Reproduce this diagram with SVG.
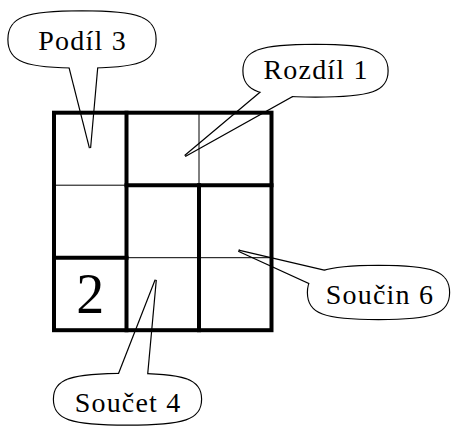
<svg xmlns="http://www.w3.org/2000/svg" xmlns:xlink="http://www.w3.org/1999/xlink" width="451" height="428" viewBox="0 0 451 428">
  <style>
    /* callouts: a doubled stroke is drawn first, then the white fills cover its inner half */
    .edge { fill: #fff; stroke: #000; stroke-width: 2.4; stroke-linejoin: miter; }
    .cover { fill: #fff; stroke: none; }
    .label { font-size: 28px; letter-spacing: 1.2px; text-anchor: middle; fill: #000; }
    .digit { font-size: 56px; text-anchor: middle; fill: #000; }
    .thin { stroke: #000; stroke-width: 1; fill: none; }
    .thick { stroke: #000; stroke-width: 4; fill: none; stroke-linecap: square; }
  </style>
  <defs>
    <path id="body-podil" d="M155.5,39.5 C155.5,61.34 139.33,67.5 82,67.5 C24.67,67.5 8.5,61.34 8.5,39.5 C8.5,17.66 24.67,11.5 82,11.5 C139.33,11.5 155.5,17.66 155.5,39.5Z"/>
    <path id="tail-podil" d="M67.7,60 L90,148 L97.8,60 Z"/>
    <path id="body-rozdil" d="M387.5,70.75 C387.5,90.84 371.66,96.5 315.5,96.5 C259.34,96.5 243.5,90.84 243.5,70.75 C243.5,50.66 259.34,45 315.5,45 C371.66,45 387.5,50.66 387.5,70.75Z"/>
    <path id="tail-rozdil" d="M267.5,86.7 L185,156 L302.6,90.3 Z"/>
    <path id="body-soucin" d="M449,292.5 C449,313.17 433.49,319 378.5,319 C323.51,319 308,313.17 308,292.5 C308,271.83 323.51,266 378.5,266 C433.49,266 449,271.83 449,292.5Z"/>
    <path id="tail-soucin" d="M338,274 L238.5,250.7 L324.5,290.1 Z"/>
    <path id="body-soucet" d="M201,399.25 C201,418.95 184.83,424.5 127.5,424.5 C70.17,424.5 54,418.95 54,399.25 C54,379.55 70.17,374 127.5,374 C184.83,374 201,379.55 201,399.25Z"/>
    <path id="tail-soucet" d="M113.8,387.3 L155.7,280 L145.7,389.3 Z"/>
  </defs>

  <!-- callout labels -->
  <g id="callout-podil">
    <use xlink:href="#body-podil" class="edge"/>
    <use xlink:href="#tail-podil" class="edge"/>
    <use xlink:href="#body-podil" class="cover"/>
    <use xlink:href="#tail-podil" class="cover"/>
    <text class="label" x="82.6" y="50" font-family="'Liberation Serif', 'DejaVu Serif', serif">Podíl 3</text>
  </g>
  <g id="callout-rozdil">
    <use xlink:href="#body-rozdil" class="edge"/>
    <use xlink:href="#tail-rozdil" class="edge"/>
    <use xlink:href="#body-rozdil" class="cover"/>
    <use xlink:href="#tail-rozdil" class="cover"/>
    <text class="label" x="316.1" y="79.3" font-family="'Liberation Serif', 'DejaVu Serif', serif">Rozdíl 1</text>
  </g>
  <g id="callout-soucin">
    <use xlink:href="#body-soucin" class="edge"/>
    <use xlink:href="#tail-soucin" class="edge"/>
    <use xlink:href="#body-soucin" class="cover"/>
    <use xlink:href="#tail-soucin" class="cover"/>
    <text class="label" x="380" y="304.3" font-family="'Liberation Serif', 'DejaVu Serif', serif">Součin 6</text>
  </g>
  <g id="callout-soucet">
    <use xlink:href="#body-soucet" class="edge"/>
    <use xlink:href="#tail-soucet" class="edge"/>
    <use xlink:href="#body-soucet" class="cover"/>
    <use xlink:href="#tail-soucet" class="cover"/>
    <text class="label" x="128.1" y="411.7" font-family="'Liberation Serif', 'DejaVu Serif', serif">Součet 4</text>
  </g>

  <!-- 3x3 grid: thin lines inside cages, thick lines on cage borders -->
  <g id="grid">
    <g id="cell-lines-thin">
      <line class="thin" x1="199" y1="112.7" x2="199" y2="185.2"/>
      <line class="thin" x1="54" y1="185.2" x2="126.5" y2="185.2"/>
      <line class="thin" x1="126.5" y1="257.7" x2="271.5" y2="257.7"/>
    </g>
    <g id="cage-borders">
      <line class="thick" x1="126.5" y1="112.7" x2="126.5" y2="330.2"/>
      <line class="thick" x1="126.5" y1="185.2" x2="271.5" y2="185.2"/>
      <line class="thick" x1="199" y1="185.2" x2="199" y2="330.2"/>
      <line class="thick" x1="54" y1="257.7" x2="126.5" y2="257.7"/>
      <rect class="thick" x="54" y="112.7" width="217.5" height="217.5"/>
    </g>
    <text id="given-2" class="digit" x="90.3" y="313.3" font-family="'Liberation Serif', 'DejaVu Serif', serif">2</text>
  </g>
</svg>
